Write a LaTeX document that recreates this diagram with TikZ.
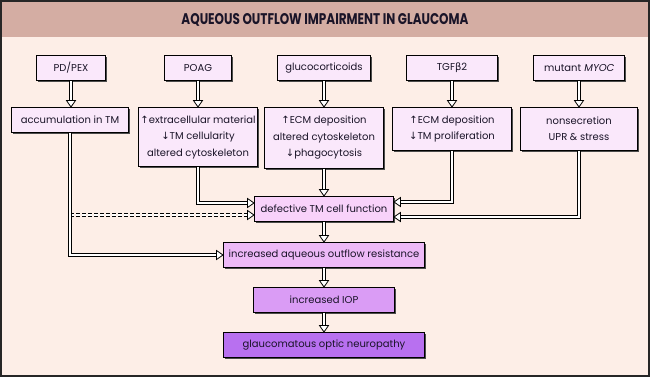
\documentclass[tikz,border=0pt]{standalone}
\usepackage{fontspec}
\setmainfont{Poppins}[AutoFakeSlant=0.18]
\newfontfamily\symf{DejaVu Sans}
\usetikzlibrary{decorations.markings,shadows}
\definecolor{bgc}{HTML}{FDEEE7}
\definecolor{titlec}{HTML}{D4ADA3}
\definecolor{boxa}{HTML}{FAE8FB}
\definecolor{boxb}{HTML}{F8D2FA}
\definecolor{boxc}{HTML}{EDB9F7}
\definecolor{boxd}{HTML}{DA9CF5}
\definecolor{boxe}{HTML}{B870F0}
\definecolor{inkc}{HTML}{1A1428}
\newcommand{\up}{{\symf\char"2191}}
\newcommand{\dn}{{\symf\char"2193}}
\newcommand{\bet}{{\symf\char"03B2}}
\tikzset{
  box/.style={draw=black, line width=1pt, inner sep=0pt, align=center, text=inkc,
    font=\fontsize{10}{16.5}\selectfont,
    drop shadow={shadow xshift=1.2pt, shadow yshift=-1.2pt, fill=black!70, opacity=1}},
  dbl/.style={draw=black, line width=1pt, double=white, double distance=2pt,
    shorten >=5.5pt, line join=miter,
    postaction={decorate},
    decoration={markings, mark=at position 1 with {\draw[solid, line width=0.8pt, fill=white, draw=black] (0,0) -- (-6.5pt,4.5pt) -- (-6.5pt,-4.5pt) -- cycle;}}},
}
\begin{document}
\begin{tikzpicture}[x=1pt,y=-1pt]
\useasboundingbox (0,0) rectangle (651,378);
\fill[bgc] (1,1) rectangle (649,376);
\fill[titlec] (1,1) rectangle (649,37);
\draw[line width=1.4pt, black!85] (1,1) rectangle (649,376);
\node[text=inkc] (title) at (325,19.5) {\resizebox{287pt}{11pt}{\bfseries AQUEOUS OUTFLOW IMPAIRMENT IN GLAUCOMA}};

% top row
\node[box, fill=boxa, minimum width=69pt, minimum height=25pt] (pd) at (71,68) {PD/PEX};
\node[box, fill=boxa, minimum width=67pt, minimum height=25pt] (poag) at (198,68) {POAG};
\node[box, fill=boxa, minimum width=93pt, minimum height=25pt] (gluco) at (324,68) {glucocorticoids};
\node[box, fill=boxa, minimum width=91pt, minimum height=25pt] (tgf) at (452,68) {TGF\bet2};
\node[box, fill=boxa, minimum width=91pt, minimum height=25pt] (myoc) at (579,68) {mutant \textit{MYOC}};

% second row
\node[box, fill=boxa, minimum width=117pt, minimum height=25pt] (acc) at (70,120) {accumulation in TM};
\node[box, fill=boxa, minimum width=119pt, minimum height=59pt] (poagE) at (198,137) {\up extracellular material\\\dn TM cellularity\\altered cytoskeleton};
\node[box, fill=boxa, minimum width=119pt, minimum height=61pt] (glucoE) at (324,138) {\up ECM deposition\\altered cytoskeleton\\\dn phagocytosis};
\node[box, fill=boxa, minimum width=119pt, minimum height=43pt] (tgfE) at (452,129) {\up ECM deposition\\\dn TM proliferation};
\node[box, fill=boxa, minimum width=117pt, minimum height=43pt] (myocE) at (579,129) {nonsecretion\\UPR \& stress};

% chain
\node[box, fill=boxb, minimum width=139pt, minimum height=25pt] (def) at (324,209) {defective TM cell function};
\node[box, fill=boxc, minimum width=201pt, minimum height=25pt] (aqu) at (324,255) {increased aqueous outflow resistance};
\node[box, fill=boxd, minimum width=141pt, minimum height=25pt] (iop) at (324,300) {increased IOP};
\node[box, fill=boxe, minimum width=201pt, minimum height=25pt] (gon) at (324,345) {glaucomatous optic neuropathy};

% connectors
\draw[dbl] (pd.south) -- (pd.south |- acc.north);
\draw[dbl] (poag.south) -- (poag.south |- poagE.north);
\draw[dbl] (gluco.south) -- (gluco.south |- glucoE.north);
\draw[dbl] (tgf.south) -- (tgf.south |- tgfE.north);
\draw[dbl] (myoc.south) -- (myoc.south |- myocE.north);

\coordinate (dj) at (acc.south |- 0,215);
\draw[dbl, dash pattern=on 4pt off 2pt] (dj) -- ([yshift=-6pt]def.west);
\draw[dbl] (acc.south) |- (aqu.west);
\draw[dbl] (poagE.south) |- ([yshift=6pt]def.west);
\draw[dbl] (tgfE.south) |- ([yshift=7pt]def.east);
\draw[dbl] (myocE.south) |- ([yshift=-8pt]def.east);
\draw[dbl] (glucoE.south) -- (glucoE.south |- def.north);
\draw[dbl] (def.south) -- (aqu.north);
\draw[dbl] (aqu.south) -- (iop.north);
\draw[dbl] (iop.south) -- (gon.north);
\end{tikzpicture}
\end{document}
